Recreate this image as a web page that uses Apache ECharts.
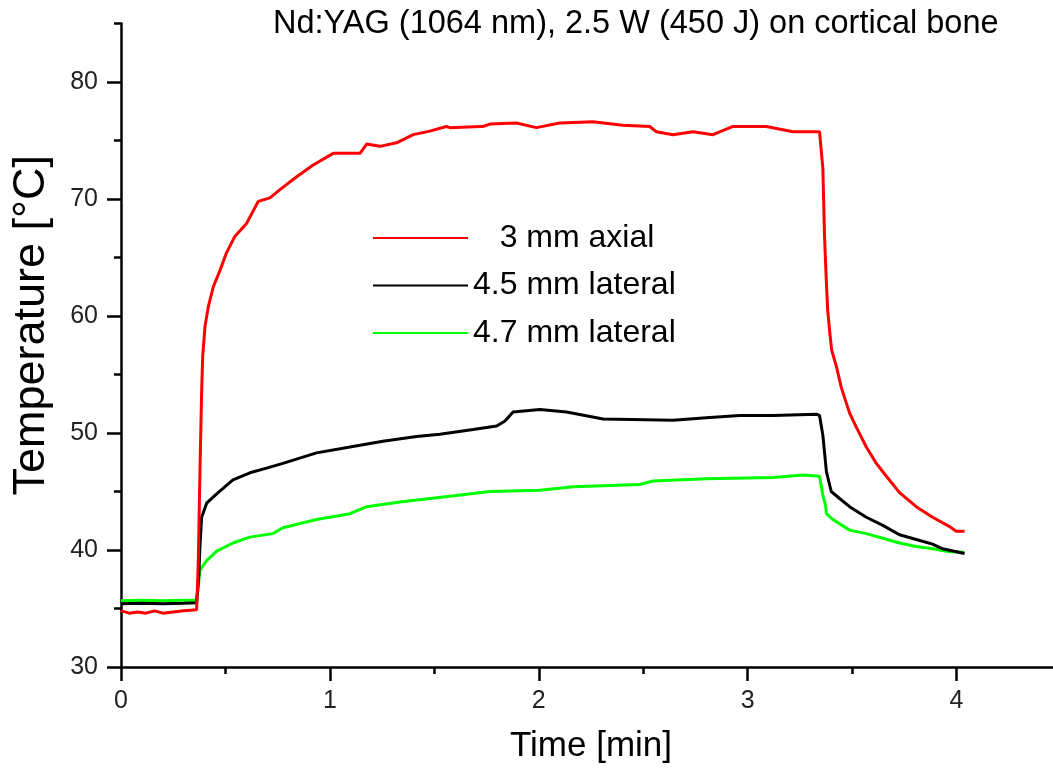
<!DOCTYPE html>
<html>
<head>
<meta charset="utf-8">
<script src="https://cdn.jsdelivr.net/npm/echarts@6/dist/echarts.min.js"></script>
<style>
html,body{margin:0;padding:0;background:#fff;}
#chart{width:1053px;height:772px;}
</style>
</head>
<body>
<div id="chart"></div>
<script>
// ---- Data (time in min, temperature in °C) ----
const seriesNames = ['3 mm axial', '4.5 mm lateral', '4.7 mm lateral'];

const redTime = [0.000,0.040,0.080,0.120,0.160,0.200,0.250,0.300,0.362,0.370,0.378,0.386,0.391,0.402,0.418,0.442,0.474,0.505,0.545,0.601,0.657,0.713,0.761,0.841,0.920,1.016,1.144,1.176,1.239,1.319,1.399,1.478,1.558,1.574,1.718,1.732,1.766,1.893,1.989,2.100,2.260,2.402,2.531,2.563,2.643,2.738,2.834,2.930,3.089,3.217,3.344,3.352,3.360,3.368,3.377,3.383,3.392,3.402,3.426,3.448,3.488,3.520,3.568,3.616,3.664,3.727,3.807,3.885,3.967,3.998,4.038];
const redTemp = [34.8,34.6,34.7,34.6,34.8,34.6,34.7,34.8,34.9,39.0,46.8,53.5,56.5,59.1,60.8,62.5,63.9,65.4,66.8,67.9,69.8,70.1,70.8,71.9,72.9,73.9,73.9,74.7,74.5,74.8,75.5,75.8,76.2,76.1,76.2,76.2,76.4,76.5,76.1,76.5,76.6,76.3,76.2,75.75,75.5,75.75,75.5,76.2,76.2,75.75,75.75,75.75,72.6,66.8,62.8,60.5,58.8,57.1,55.6,53.9,51.7,50.5,48.8,47.4,46.3,44.9,43.7,42.8,42.0,41.6,41.6];

const blackTime = [0.000,0.100,0.200,0.300,0.362,0.373,0.378,0.386,0.410,0.458,0.536,0.617,0.697,0.775,0.936,1.096,1.254,1.415,1.526,1.686,1.798,1.837,1.877,2.005,2.133,2.308,2.643,2.802,2.962,3.121,3.329,3.344,3.360,3.377,3.400,3.440,3.488,3.568,3.647,3.727,3.807,3.885,3.933,4.038];
const blackTemp = [35.4,35.45,35.4,35.45,35.5,38.0,40.3,42.8,44.0,44.8,46.0,46.6,47.0,47.4,48.3,48.8,49.3,49.7,49.9,50.3,50.6,51.0,51.8,52.0,51.8,51.2,51.1,51.3,51.5,51.5,51.6,51.5,49.8,46.7,45.0,44.4,43.7,42.8,42.1,41.3,40.9,40.5,40.1,39.7];

const greenTime = [0.000,0.100,0.200,0.300,0.360,0.368,0.378,0.410,0.458,0.536,0.617,0.727,0.775,0.936,1.096,1.176,1.335,1.574,1.766,2.005,2.165,2.483,2.547,2.802,3.121,3.265,3.344,3.360,3.373,3.377,3.408,3.488,3.568,3.647,3.727,3.807,3.885,3.967,4.038];
const greenTemp = [35.67,35.7,35.67,35.7,35.7,36.5,38.3,39.1,39.9,40.6,41.1,41.4,41.9,42.6,43.1,43.7,44.1,44.6,45.0,45.1,45.4,45.6,45.9,46.1,46.2,46.4,46.3,44.7,43.8,43.1,42.6,41.7,41.4,41.0,40.6,40.3,40.1,39.85,39.8];

const xMajorTicks = [0, 1, 2, 3, 4];
const xMinorTicks = [0.5, 1.5, 2.5, 3.5, 4.5];
const yMajorTicks = [30, 40, 50, 60, 70, 80];
const yMinorTicks = [35, 45, 55, 65, 75, 85];

const titleText = 'Nd:YAG (1064 nm), 2.5 W (450 J) on cortical bone';
const xTitle = 'Time [min]';
const yTitle = 'Temperature [°C]';

// ---- Build ----
function zip(a, b) { return a.map((v, i) => [v, b[i]]); }
const FONT = "'Liberation Sans', Arial, sans-serif";

const chart = echarts.init(document.getElementById('chart'), null, { renderer: 'canvas' });
chart.setOption({
  animation: false,
  backgroundColor: '#fff',
  title: {
    text: titleText, left: 268, top: 3,
    textStyle: { fontFamily: FONT, fontSize: 32.5, fontWeight: 'normal', color: '#000' }
  },
  grid: { left: 121, top: 23.5, bottom: 105, right: -8, containLabel: false, outerBoundsMode: 'none' },
  legend: {
    orient: 'vertical', left: 373, top: 222, padding: 0,
    icon: 'rect', itemWidth: 95, itemHeight: 2, itemGap: 15.5,
    data: seriesNames,
    formatter: function (n) { return n === seriesNames[0] ? '   ' + n : n; },
    textStyle: { fontFamily: FONT, fontSize: 32, color: '#000' }
  },
  xAxis: [{
    type: 'value', min: 0, max: 4.5, gridIndex: 0,
    name: xTitle, nameLocation: 'middle', nameGap: 62,
    nameTextStyle: { fontFamily: FONT, fontSize: 35, color: '#000' },
    axisLine: { show: true, onZero: false, lineStyle: { color: '#000', width: 2.5 } },
    axisTick: { show: true, length: 14, lineStyle: { color: '#000', width: 2.5 }, customValues: xMajorTicks },
    axisLabel: { fontFamily: FONT, fontSize: 25, color: '#222', margin: 22, customValues: xMajorTicks },
    splitLine: { show: false }
  }, {
    type: 'value', min: 0, max: 4.5, gridIndex: 0, position: 'bottom',
    axisLine: { show: false },
    axisTick: { show: true, length: 7, lineStyle: { color: '#000', width: 2.5 }, customValues: xMinorTicks },
    axisLabel: { show: false },
    splitLine: { show: false }
  }],
  yAxis: [{
    type: 'value', min: 30, max: 85, gridIndex: 0,
    name: yTitle, nameLocation: 'middle', nameGap: 67, nameRotate: 90,
    nameTextStyle: { fontFamily: FONT, fontSize: 45, color: '#000', padding: [0, 0, 0, 40] },
    axisLine: { show: true, onZero: false, lineStyle: { color: '#000', width: 2.5 } },
    axisTick: { show: true, length: 14, lineStyle: { color: '#000', width: 2.5 }, customValues: yMajorTicks },
    axisLabel: { fontFamily: FONT, fontSize: 25, color: '#222', margin: 23, customValues: yMajorTicks },
    splitLine: { show: false }
  }, {
    type: 'value', min: 30, max: 85, gridIndex: 0, position: 'left',
    axisLine: { show: false },
    axisTick: { show: true, length: 7, lineStyle: { color: '#000', width: 2.5 }, customValues: yMinorTicks },
    axisLabel: { show: false },
    splitLine: { show: false }
  }],
  series: [
    { name: seriesNames[0], type: 'line', data: zip(redTime, redTemp), symbol: 'none', z: 5,
      lineStyle: { color: '#ff0000', width: 3 }, itemStyle: { color: '#ff0000' } },
    { name: seriesNames[1], type: 'line', data: zip(blackTime, blackTemp), symbol: 'none', z: 4,
      lineStyle: { color: '#000000', width: 3 }, itemStyle: { color: '#000000' } },
    { name: seriesNames[2], type: 'line', data: zip(greenTime, greenTemp), symbol: 'none', z: 3,
      lineStyle: { color: '#00ff00', width: 3 }, itemStyle: { color: '#00ff00' } }
  ]
});
</script>
</body>
</html>
